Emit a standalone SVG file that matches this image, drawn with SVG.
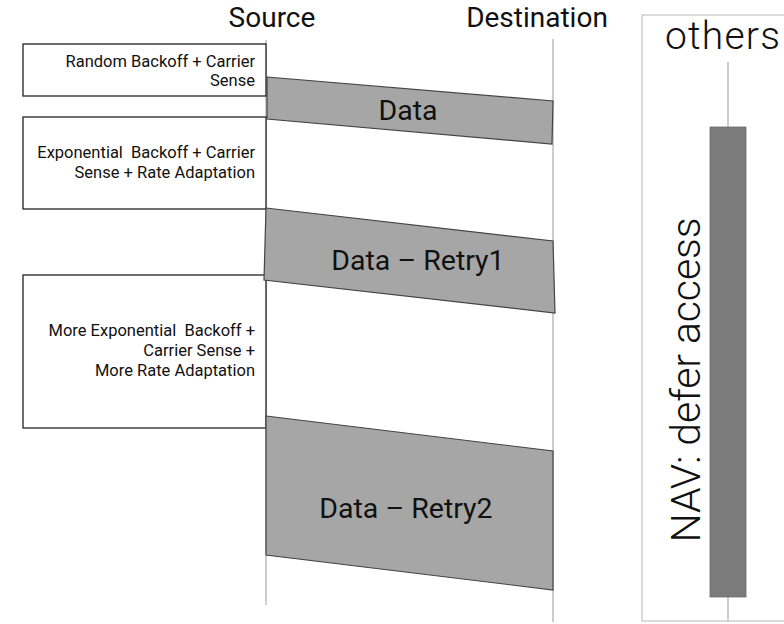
<svg xmlns="http://www.w3.org/2000/svg" width="784" height="624" viewBox="0 0 784 624">
  <style>
    .head { font-family: Roboto, "Liberation Sans", sans-serif; font-size: 28px; fill: #111; text-anchor: middle; }
    .note { font-family: Roboto, "Liberation Sans", sans-serif; font-size: 16.5px; fill: #111; text-anchor: end; white-space: pre; }
    .box { fill: #fff; stroke: #222; stroke-width: 1.3; }
    .frame { fill: #a6a6a6; stroke: #444; stroke-width: 1.2; }
    .flabel { font-family: Roboto, "Liberation Sans", sans-serif; font-size: 28.5px; fill: #111; text-anchor: middle; }
    .life { stroke: #bdbdbd; stroke-width: 1.5; fill: none; }
    .light { font-family: Roboto, "Liberation Sans", sans-serif; font-weight: 300; fill: #111; }
  </style>
  <rect width="784" height="624" fill="#fff"/>

  <!-- column headers -->
  <text class="head" x="272" y="27">Source</text>
  <text class="head" x="537" y="27">Destination</text>

  <!-- lifelines -->
  <g id="lifelines">
    <line class="life" x1="266" y1="40" x2="266" y2="605"/>
    <line class="life" x1="553" y1="39" x2="553" y2="622"/>
  </g>

  <!-- sender-side procedures -->
  <g id="step-random-backoff">
    <rect class="box" x="23" y="44" width="243" height="52"/>
    <text class="note" x="255" y="67">Random Backoff + Carrier</text>
    <text class="note" x="255" y="86">Sense</text>
  </g>
  <g id="step-exp-backoff">
    <rect class="box" x="23" y="117" width="243" height="92"/>
    <text class="note" x="255" y="158">Exponential  Backoff + Carrier</text>
    <text class="note" x="255" y="178">Sense + Rate Adaptation</text>
  </g>
  <g id="step-more-exp-backoff">
    <rect class="box" x="23" y="275" width="243" height="153"/>
    <text class="note" x="255" y="336">More Exponential  Backoff +</text>
    <text class="note" x="255" y="356">Carrier Sense +</text>
    <text class="note" x="255" y="376">More Rate Adaptation</text>
  </g>

  <!-- transmitted frames -->
  <g id="frame-data">
    <polygon class="frame" points="267,77 553,101 552,144 267,119"/>
    <text class="flabel" x="408" y="120">Data</text>
  </g>
  <g id="frame-retry1">
    <polygon class="frame" points="266,208 553,241 555,313 264,280"/>
    <text class="flabel" x="418" y="270">Data – Retry1</text>
  </g>
  <g id="frame-retry2">
    <polygon class="frame" points="266,416 553,451 553,590 266,555"/>
    <text class="flabel" x="406" y="518">Data – Retry2</text>
  </g>

  <!-- third-party stations -->
  <g id="others">
    <rect x="642" y="15" width="160" height="606" fill="#fff" stroke="#c4c4c4" stroke-width="1.2"/>
    <text class="light" x="665" y="49" font-size="39" textLength="115" lengthAdjust="spacing">others</text>
    <line class="life" x1="728" y1="62" x2="728" y2="621"/>
    <rect x="710" y="127" width="36" height="470" fill="#7b7b7b" stroke="#6e6e6e" stroke-width="0.8"/>
    <text class="light" transform="translate(700,380) rotate(-90)" x="0" y="0" text-anchor="middle" font-size="41" textLength="325" lengthAdjust="spacing">NAV: defer access</text>
  </g>
</svg>
